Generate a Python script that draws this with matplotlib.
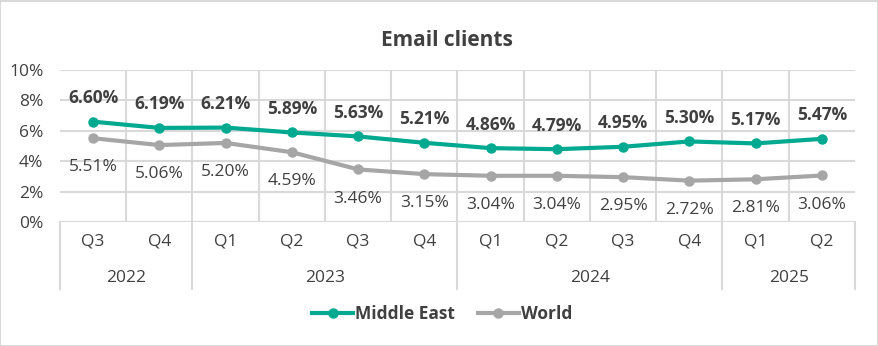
import matplotlib
matplotlib.use('Agg')
import matplotlib.pyplot as plt
from matplotlib.patches import Rectangle

QUARTERS = ['Q3', 'Q4', 'Q1', 'Q2', 'Q3', 'Q4', 'Q1', 'Q2', 'Q3', 'Q4', 'Q1', 'Q2']
YEARS = ['2022', '2023', '2024', '2025']
YEAR_SPAN = [2, 4, 4, 2]
MIDDLE_EAST = [6.60, 6.19, 6.21, 5.89, 5.63, 5.21, 4.86, 4.79, 4.95, 5.30, 5.17, 5.47]
WORLD = [5.51, 5.06, 5.20, 4.59, 3.46, 3.15, 3.04, 3.04, 2.95, 2.72, 2.81, 3.06]

TEAL = '#00A98F'
GREY = '#A6A6A6'
TEXT = '#404040'
GRID = '#D9D9D9'

plt.rcParams['font.family'] = ['Open Sans', 'DejaVu Sans']
FS = 12.5

fig = plt.figure(figsize=(8.79, 3.46), dpi=100)
W, H = 879, 346
ax = fig.add_axes([60 / W, (H - 222) / H, 795 / W, 152 / H])

x = list(range(len(QUARTERS)))
ax.plot(x, MIDDLE_EAST, color=TEAL, lw=3, marker='o', ms=6.5, label='Middle East', zorder=3)
ax.plot(x, WORLD, color=GREY, lw=3, marker='o', ms=6.5, label='World', zorder=3)

for i, v in enumerate(MIDDLE_EAST):
    ax.annotate(f'{v:.2f}%', (i, v), xytext=(0, 17), textcoords='offset points',
                ha='center', va='center', fontsize=FS, fontweight='bold', color=TEXT)
for i, v in enumerate(WORLD):
    ax.annotate(f'{v:.2f}%', (i, v), xytext=(0, -21), textcoords='offset points',
                ha='center', va='center', fontsize=FS, color=TEXT)

ax.set_xlim(-0.5, len(QUARTERS) - 0.5)
ax.set_ylim(0, 10)
ax.set_yticks(range(0, 11, 2))
ax.set_yticklabels([f'{t}%' for t in range(0, 11, 2)], fontsize=FS, color=TEXT)
ax.tick_params(axis='y', length=0, pad=12)

# category grid lines between quarters
ax.set_xticks([i + 0.5 for i in range(len(QUARTERS) - 1)], minor=True)
ax.set_xticks([])
ax.grid(axis='y', color=GRID, lw=1.5)
ax.grid(axis='x', which='minor', color=GRID, lw=1.5)
ax.tick_params(axis='x', which='minor', length=0)
for s in ax.spines.values():
    s.set_visible(False)

# quarter and year labels below the axis
trans = ax.get_xaxis_transform()
for i, q in enumerate(QUARTERS):
    ax.text(i, -0.13, q, transform=trans, ha='center', va='center', fontsize=FS, color=TEXT)
start = 0
bounds = [-0.5]
for yr, span in zip(YEARS, YEAR_SPAN):
    ax.text(start + (span - 1) / 2, -0.37, yr, transform=trans, ha='center', va='center',
            fontsize=FS, color=TEXT)
    start += span
    bounds.append(start - 0.5)
for b in bounds:
    ax.plot([b, b], [0, -0.44], transform=trans, color=GRID, lw=1.5, clip_on=False)
ax.axhline(0, color=GRID, lw=1.5)

fig.text(447 / W, 1 - 40 / H, 'Email clients', ha='center', va='center',
         fontsize=15, fontweight='bold', color=TEXT)

leg = fig.legend(loc='center', bbox_to_anchor=(442 / W, 1 - 314 / H), ncol=2, frameon=False,
                 handlelength=2.4, handletextpad=0.1, columnspacing=1.3,
                 prop={'weight': 'bold', 'size': 12.5})
for t in leg.get_texts():
    t.set_color(TEXT)

fig.add_artist(Rectangle((0.5 / W, 0.5 / H), 1 - 1.5 / W, 1 - 1.5 / H, transform=fig.transFigure,
                         fill=False, edgecolor=GRID, lw=1.5))

fig.savefig('out.png', dpi=100)
